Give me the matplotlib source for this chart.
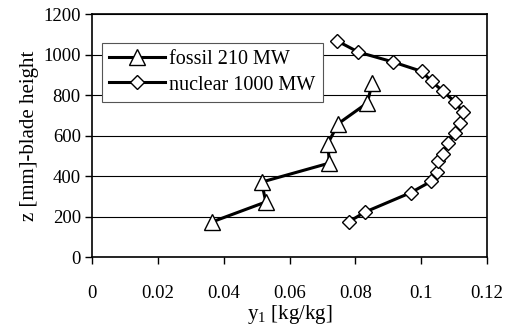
import matplotlib
matplotlib.use("Agg")
import matplotlib.pyplot as plt

plt.rcParams['font.family'] = 'Liberation Serif'
plt.rcParams['mathtext.fontset'] = 'custom'
plt.rcParams['mathtext.rm'] = 'Liberation Serif'

# fossil 210 MW
fossil_y1 = [0.0364, 0.0528, 0.0515, 0.0721, 0.0716, 0.0748, 0.0836, 0.0851]
fossil_z = [173, 272, 370, 464, 560, 659, 761, 860]

# nuclear 1000 MW
nuclear_y1 = [0.0779, 0.0829, 0.0968, 0.1030, 0.1047, 0.1052, 0.1065, 0.1082, 0.1103,
              0.1116, 0.1126, 0.1103, 0.1065, 0.1031, 0.1001, 0.0915, 0.0809, 0.0745]
nuclear_z = [173, 222, 318, 374, 420, 473, 510, 563, 612,
             664, 716, 765, 820, 868, 917, 963, 1012, 1067]

x_ticks = [0, 0.02, 0.04, 0.06, 0.08, 0.1, 0.12]
x_tick_labels = ['0', '0.02', '0.04', '0.06', '0.08', '0.1', '0.12']
y_ticks = [0, 200, 400, 600, 800, 1000, 1200]

fig = plt.figure(figsize=(5.08, 3.27), dpi=100)
ax = fig.add_axes([0.181, 0.214, 0.778, 0.743])

ax.plot(fossil_y1, fossil_z, color='black', lw=2.2, marker='^', markersize=11,
        markerfacecolor='white', markeredgecolor='black', markeredgewidth=1,
        label='fossil 210 MW')
ax.plot(nuclear_y1, nuclear_z, color='black', lw=2.2, marker='D', markersize=7.5,
        markerfacecolor='white', markeredgecolor='black', markeredgewidth=1,
        label='nuclear 1000 MW')

ax.set_xlim(0, 0.12)
ax.set_ylim(0, 1200)
ax.set_xticks(x_ticks)
ax.set_xticklabels(x_tick_labels)
ax.set_yticks(y_ticks)
ax.yaxis.grid(True, color='black', lw=0.8)
ax.set_axisbelow(True)
ax.tick_params(labelsize=13.5, direction='out', length=5, width=1, pad=15)
ax.tick_params(axis='y', pad=3)
for s in ax.spines.values():
    s.set_linewidth(1.2)

ax.set_xlabel('y$_\\mathregular{1}$ [kg/kg]', fontsize=15, labelpad=1)
ax.set_ylabel('z [mm]-blade height', fontsize=15, labelpad=3)

leg = ax.legend(loc='upper left', bbox_to_anchor=(0.025, 0.88), fontsize=14.5,
                frameon=True, fancybox=False, edgecolor='#555555', framealpha=1,
                handlelength=2.8, handletextpad=0.2, borderpad=0.35,
                labelspacing=0.3, borderaxespad=0)
leg.get_frame().set_linewidth(0.8)

fig.savefig('out.png', dpi=100)
